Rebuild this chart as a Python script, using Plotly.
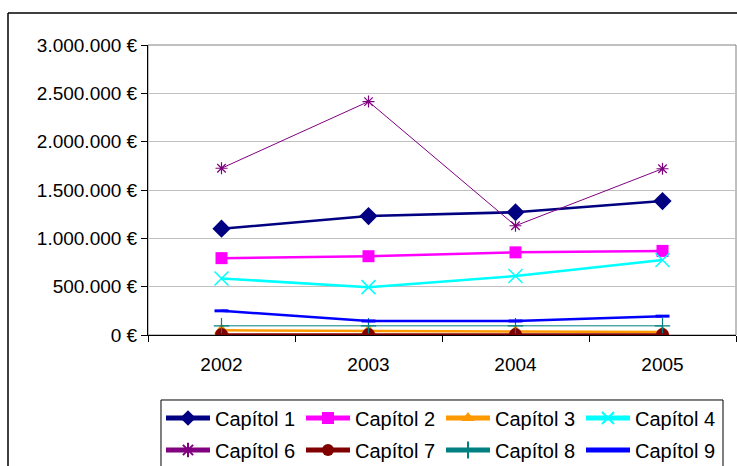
import plotly.graph_objects as go

years = ["2002", "2003", "2004", "2005"]
cap1 = [1100000, 1230000, 1270000, 1385000]
cap2 = [795000, 815000, 855000, 870000]
cap3 = [48000, 45000, 35000, 30000]
cap4 = [585000, 495000, 610000, 775000]
cap6 = [1725000, 2415000, 1130000, 1720000]
cap7 = [5000, 5000, 5000, 5000]
cap8 = [95000, 95000, 95000, 95000]
cap9 = [250000, 145000, 145000, 195000]

y_tickvals = [0, 500000, 1000000, 1500000, 2000000, 2500000, 3000000]
y_ticktext = ["0 €", "500.000 €", "1.000.000 €", "1.500.000 €", "2.000.000 €", "2.500.000 €", "3.000.000 €"]

series = [
    ("Capítol 1", cap1, "#000080", 2.5, "diamond", 14, 0, "legend"),
    ("Capítol 2", cap2, "#FF00FF", 2.5, "square", 12, 0, "legend"),
    ("Capítol 3", cap3, "#FF9900", 2.5, "triangle-up", 13, 0, "legend"),
    ("Capítol 4", cap4, "#00FFFF", 2.5, "x-thin-open", 14, 1.5, "legend"),
    ("Capítol 6", cap6, "#800080", 1, "asterisk-open", 10, 1.2, "legend2"),
    ("Capítol 7", cap7, "#800000", 2.5, "circle", 13, 0, "legend2"),
    ("Capítol 8", cap8, "#008080", 1, "cross-thin-open", 11, 1.2, "legend2"),
    ("Capítol 9", cap9, "#0000FF", 2.5, "line-ew-open", 10, 3, "legend2"),
]

FONT = "Liberation Sans, Arial, sans-serif"
FS = 19
LFS = 20

fig = go.Figure()
for name, vals, color, lw, sym, ms, mlw, lg in series:
    marker = dict(symbol=sym, size=ms, color=color)
    if mlw:
        marker["line"] = dict(color=color, width=mlw)
    fig.add_trace(go.Scatter(
        x=years, y=vals, name=name, mode="lines+markers",
        line=dict(color=color, width=lw), marker=marker, legend=lg,
    ))

leg_common = dict(
    orientation="h", x=0.0221, xanchor="left", yanchor="middle",
    borderwidth=0, bgcolor="rgba(0,0,0,0)",
    entrywidth=81, entrywidthmode="pixels", itemwidth=44,
    font=dict(family=FONT, size=LFS), itemsizing="constant",
    traceorder="normal",
)

fig.update_layout(
    width=737, height=466,
    margin=dict(l=148, r=1, t=45, b=131, autoexpand=False),
    paper_bgcolor="white", plot_bgcolor="white",
    font=dict(family=FONT, size=FS, color="black"),
    showlegend=True,
    legend=dict(leg_common, y=-0.2862),
    legend2=dict(leg_common, y=-0.3966),
    xaxis=dict(
        type="category", range=[-0.5, 3.5], tickson="boundaries",
        showline=True, linecolor="black", linewidth=1,
        ticks="outside", ticklen=6, tickcolor="black",
        showgrid=False, tickfont=dict(size=FS), zeroline=False,
        automargin=False, ticklabelstandoff=12,
    ),
    yaxis=dict(
        range=[0, 3000000], tickvals=y_tickvals, ticktext=y_ticktext,
        showline=True, linecolor="black", linewidth=1,
        ticks="outside", ticklen=6, tickcolor="black",
        showgrid=True, gridcolor="#C0C0C0", gridwidth=1,
        zeroline=False, tickfont=dict(size=FS), automargin=False,
    ),
    shapes=[
        dict(type="rect", xref="paper", yref="paper", x0=0, x1=1, y0=0, y1=1,
             line=dict(color="#808080", width=1), layer="below"),
        dict(type="line", xref="paper", yref="paper", x0=-0.2381, x1=1.1, y0=1.1103, y1=1.1103,
             line=dict(color="black", width=1.5)),
        dict(type="line", xref="paper", yref="paper", x0=-0.2381, x1=-0.2381, y0=-0.6, y1=1.1103,
             line=dict(color="black", width=1.5)),
        dict(type="rect", xref="paper", yref="paper", x0=0.0221, x1=0.9779, y0=-0.2241, y1=-0.483,
             line=dict(color="black", width=1), fillcolor="rgba(0,0,0,0)"),
    ],
)

fig.write_html(
    "out.html",
    config={"displayModeBar": False},
    post_script="document.body.style.margin='0px';document.body.style.overflow='hidden';",
)
